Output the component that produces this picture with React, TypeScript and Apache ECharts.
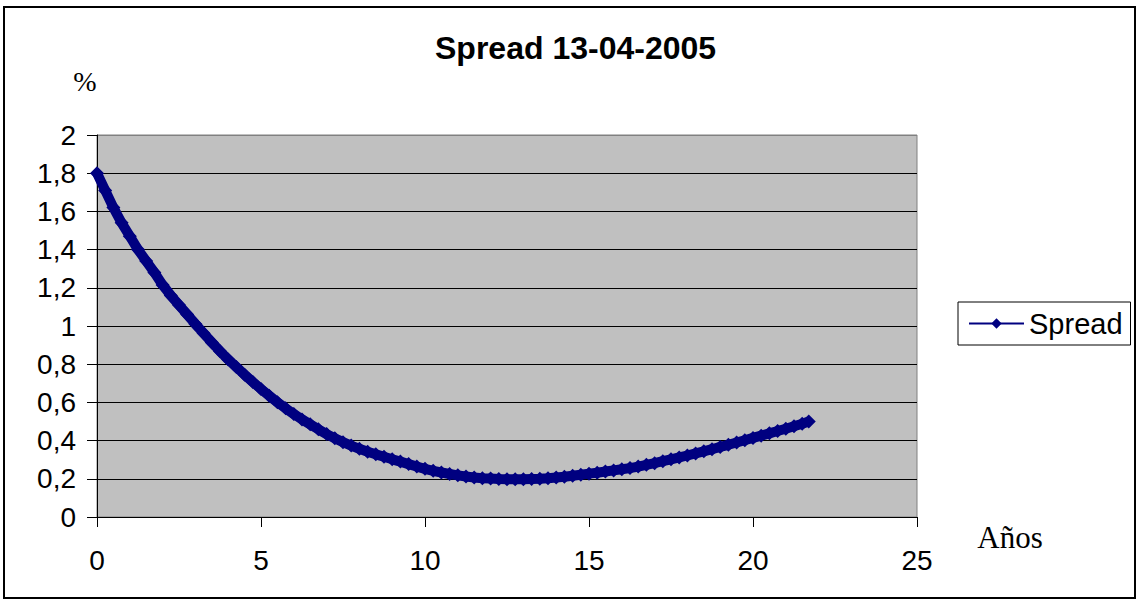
import React, { useEffect, useRef } from "react";
import * as echarts from "echarts";

const years: number[] = [
  0, 0.25, 0.5, 0.75, 1, 1.25, 1.5, 1.75, 2, 2.25, 2.5, 2.75, 3, 3.25, 3.5, 3.75,
  4, 4.25, 4.5, 4.75, 5, 5.25, 5.5, 5.75, 6, 6.25, 6.5, 6.75, 7, 7.25, 7.5, 7.75,
  8, 8.25, 8.5, 8.75, 9, 9.25, 9.5, 9.75, 10, 10.25, 10.5, 10.75, 11, 11.25, 11.5, 11.75,
  12, 12.25, 12.5, 12.75, 13, 13.25, 13.5, 13.75, 14, 14.25, 14.5, 14.75, 15, 15.25, 15.5, 15.75,
  16, 16.25, 16.5, 16.75, 17, 17.25, 17.5, 17.75, 18, 18.25, 18.5, 18.75, 19, 19.25, 19.5, 19.75,
  20, 20.25, 20.5, 20.75, 21, 21.25, 21.5, 21.7,
];

const spread: number[] = [
  1.8, 1.71, 1.62, 1.54, 1.47, 1.4, 1.34, 1.28, 1.215, 1.16, 1.11, 1.06, 1.01, 0.962, 0.914, 0.868,
  0.825, 0.785, 0.745, 0.707, 0.67, 0.635, 0.601, 0.569, 0.539, 0.511, 0.485, 0.459, 0.434, 0.412, 0.392, 0.374,
  0.357, 0.342, 0.328, 0.315, 0.302, 0.29, 0.277, 0.264, 0.252, 0.242, 0.233, 0.225, 0.218, 0.212, 0.207, 0.203,
  0.201, 0.199, 0.198, 0.198, 0.198, 0.199, 0.2, 0.203, 0.207, 0.211, 0.216, 0.221, 0.227, 0.232, 0.238, 0.244,
  0.25, 0.256, 0.264, 0.273, 0.282, 0.292, 0.302, 0.312, 0.322, 0.333, 0.344, 0.355, 0.367, 0.378, 0.39, 0.402,
  0.414, 0.426, 0.438, 0.45, 0.462, 0.475, 0.488, 0.5,
];

const seriesName = "Spread";
const chartTitle = "Spread 13-04-2005";
const yUnit = "%";
const xUnit = "Años";

const SANS = "'Liberation Sans', Arial, sans-serif";
const SERIF = "'Liberation Serif', 'Times New Roman', serif";

export default function App() {
  const ref = useRef<HTMLDivElement>(null);

  useEffect(() => {
    document.body.style.margin = "0";
    if (!ref.current) return;
    const chart = echarts.init(ref.current, undefined, { renderer: "svg" });
    const splitColors = ["#000", "#000", "#000", "#000", "#000", "#000", "#000", "#000", "#000", "#000", "#808080"];
    chart.setOption({
      animation: false,
      backgroundColor: "#ffffff",
      title: {
        text: chartTitle,
        left: 435,
        top: 32,
        padding: 0,
        textStyle: { fontFamily: SANS, fontSize: 32, fontWeight: "bold", color: "#000" },
      },
      legend: {
        orient: "vertical",
        left: 958,
        top: 302,
        padding: [7, 8, 7, 10],
        borderColor: "#000",
        borderWidth: 1,
        borderRadius: 0,
        backgroundColor: "#fff",
        itemWidth: 55,
        itemHeight: 13,
        lineStyle: { width: 2 },
        textStyle: { fontFamily: SANS, fontSize: 29, color: "#000" },
        data: [seriesName],
      },
      grid: {
        left: 97,
        top: 135,
        right: 221,
        bottom: 84,
        show: true,
        backgroundColor: "#C0C0C0",
        borderColor: "#808080",
        borderWidth: 1,
      },
      xAxis: {
        type: "value",
        min: 0,
        max: 25,
        interval: 5,
        axisLine: { show: true, lineStyle: { color: "#000", width: 1 } },
        axisTick: { show: true, inside: false, length: 10, lineStyle: { color: "#000", width: 1 } },
        axisLabel: { margin: 29, fontFamily: SANS, fontSize: 28, color: "#000" },
        splitLine: { show: false },
      },
      yAxis: {
        type: "value",
        min: 0,
        max: 2,
        interval: 0.2,
        axisLine: { show: true, lineStyle: { color: "#000", width: 1 } },
        axisTick: { show: true, inside: false, length: 10, lineStyle: { color: "#000", width: 1 } },
        axisLabel: {
          margin: 21,
          fontFamily: SANS,
          fontSize: 28,
          color: "#000",
          formatter: (v: number) => String(Math.round(v * 10) / 10).replace(".", ","),
        },
        splitLine: { show: true, lineStyle: { color: splitColors, width: 1 } },
      },
      graphic: [
        {
          type: "rect",
          silent: true,
          shape: { x: 4, y: 7, width: 1131, height: 591 },
          style: { fill: "none", stroke: "#000", lineWidth: 2 },
        },
        {
          type: "text",
          x: 85,
          y: 81,
          style: { text: yUnit, font: `28px ${SERIF}`, fill: "#000", textAlign: "center", textVerticalAlign: "middle" },
        },
        {
          type: "text",
          x: 1010,
          y: 537,
          style: { text: xUnit, font: `31px ${SERIF}`, fill: "#000", textAlign: "center", textVerticalAlign: "middle" },
        },
      ],
      series: [
        {
          name: seriesName,
          type: "line",
          data: years.map((x, i) => [x, spread[i]]),
          symbol: "diamond",
          symbolSize: 14,
          showAllSymbol: true,
          color: "#000080",
          itemStyle: { color: "#000080" },
          lineStyle: { color: "#000080", width: 10 },
        },
      ],
    });
    return () => chart.dispose();
  }, []);

  return <div ref={ref} style={{ width: 1138, height: 601 }} />;
}
